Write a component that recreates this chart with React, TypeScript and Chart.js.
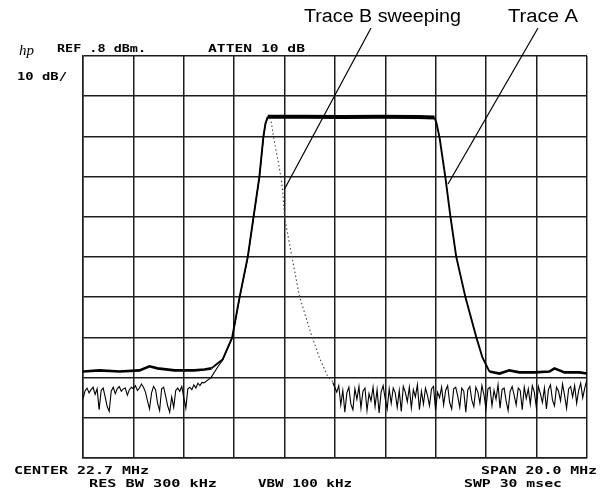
import React, { useEffect, useRef } from "react";
import { Chart, registerables } from "chart.js";

Chart.register(...registerables);

// Spectrum analyzer settings: center 22.7 MHz, span 20 MHz, ref 0.8 dBm, 10 dB/div
const freqTicks = [12.7, 14.7, 16.7, 18.7, 20.7, 22.7, 24.7, 26.7, 28.7, 30.7, 32.7];
const levelTicks = [0.8, -9.2, -19.2, -29.2, -39.2, -49.2, -59.2, -69.2, -79.2, -89.2, -99.2];

// Trace A (max hold, full filter response)
const traceAFreq = [
  12.7, 13.35, 14.15, 14.94, 15.34, 15.66, 16.33, 17.12, 17.52, 17.8, 18.24, 18.62, 18.91,
  19.24, 19.47, 19.7, 19.86, 19.94, 20.03, 21.5, 23.0, 24.5, 26.0, 26.65, 26.73, 26.85, 27.08,
  27.28, 27.51, 27.88, 28.31, 28.55, 28.83, 29.23, 29.62, 30.02, 30.62, 31.21, 31.41, 31.81,
  32.4, 32.7,
];
const traceALevel = [
  -77.7, -77.4, -77.7, -77.4, -76.4, -76.9, -77.4, -77.4, -77.2, -76.9, -74.7, -69.2, -59.3,
  -49.1, -39.1, -29.2, -19.2, -16.0, -14.3, -14.3, -14.4, -14.3, -14.4, -14.5, -16.0, -19.5,
  -29.4, -39.1, -49.1, -59.3, -69.2, -74.2, -77.7, -78.2, -77.4, -77.9, -77.9, -77.7, -76.9,
  -77.9, -77.9, -78.2,
];

// Trace B (sweeping): noise on the left, sampled every 0.08 MHz from 12.7 MHz
const traceBLeftStart = 12.7;
const traceBStep = 0.08;
const traceBLeftNoise = [
  -84.5, -82.5, -81.8, -83.0, -82.2, -81.6, -83.4, -82.0, -87.2, -82.4,
  -81.8, -84.0, -86.4, -87.6, -82.6, -81.6, -83.2, -82.0, -81.4, -82.6,
  -82.0, -81.8, -83.6, -82.2, -81.6, -82.0, -81.2, -82.4, -81.8, -80.8,
  -81.6, -82.8, -85.0, -87.0, -83.0, -81.4, -82.2, -85.6, -87.4, -82.0,
  -81.6, -83.8, -86.2, -87.8, -84.0, -86.6, -82.4, -81.8, -82.6, -81.4,
  -84.2, -86.8, -82.0, -81.6, -82.2, -81.0, -81.8, -80.6, -81.2, -80.4, -80.5,
];
// Trace B rising skirt
const traceBRiseFreq = [17.5, 17.78, 18.05, 18.24, 18.62, 18.91, 19.24, 19.47, 19.7, 19.86, 19.94, 20.03, 20.1];
const traceBRiseLevel = [-80.5, -79.2, -76.5, -74.9, -69.4, -59.5, -49.3, -39.3, -29.4, -19.4, -16.2, -14.5, -14.6];
// Trace B falling (fast sweep, faint)
const traceBFallFreq = [20.1, 20.17, 20.3, 20.43, 20.57, 20.63, 20.7, 20.96, 21.29, 21.76, 22.08, 22.41, 22.61];
const traceBFallLevel = [-14.6, -15.7, -20.7, -24.9, -29.9, -33.2, -39.4, -48.1, -59.0, -68.5, -74.2, -78.9, -80.2];
// Trace B noise on the right, sampled every 0.08 MHz from 22.61 MHz
const traceBRightStart = 22.61;
const traceBRightNoise = [
  -80.4, -81.6, -82.8, -81.2, -86.0, -82.4, -87.8, -83.0, -81.6, -85.8,
  -87.2, -82.0, -84.6, -81.4, -86.8, -82.6, -81.8, -87.4, -83.2, -85.0,
  -81.6, -86.4, -82.2, -88.0, -82.8, -81.2, -84.4, -87.0, -82.0, -85.6,
  -81.8, -83.0, -86.6, -82.4, -87.6, -81.4, -82.8, -85.2, -81.6, -86.8,
  -82.2, -84.0, -81.0, -87.2, -82.6, -85.8, -81.8, -83.6, -86.2, -82.0,
  -81.4, -87.4, -82.8, -84.2, -81.6, -86.0, -82.4, -81.2, -85.4, -87.0,
  -82.0, -81.6, -83.8, -86.6, -81.8, -82.6, -87.8, -82.2, -81.4, -84.8,
  -86.4, -81.6, -82.8, -85.6, -81.2, -83.4, -87.0, -82.0, -81.6, -86.2,
  -82.4, -84.6, -81.0, -86.8, -82.2, -81.8, -85.0, -87.4, -82.6, -81.4,
  -83.6, -86.0, -81.8, -82.4, -87.2, -81.6, -84.4, -82.0, -85.8, -81.2,
  -82.8, -86.6, -81.4, -83.2, -85.4, -81.8, -87.0, -82.2, -81.0, -84.8,
  -86.2, -81.6, -82.6, -85.0, -80.8, -83.6, -86.8, -82.0, -81.4, -84.0,
  -81.2, -85.6, -82.4, -80.6, -84.2, -81.8, -79.8,
];

const pairs = (xs: number[], ys: number[]) => xs.map((x, i) => ({ x, y: ys[i] }));
const sampled = (start: number, step: number, ys: number[]) =>
  ys.map((y, i) => ({ x: +(start + i * step).toFixed(3), y }));

const MONO = 'bold 11px "DejaVu Sans Mono"';

const labels: { t: string; x: number; y: number; w?: number; font: string }[] = [
  { t: "hp", x: 19, y: 55, font: 'italic 15px "Liberation Serif"' },
  { t: "REF .8 dBm.", x: 57, y: 52, w: 89, font: MONO },
  { t: "ATTEN 10 dB", x: 208, y: 52, w: 97, font: MONO },
  { t: "10 dB/", x: 17, y: 80, w: 50, font: MONO },
  { t: "CENTER 22.7 MHz", x: 14, y: 474, w: 135, font: MONO },
  { t: "SPAN 20.0 MHz", x: 481, y: 474, w: 116, font: MONO },
  { t: "RES BW 300 kHz", x: 89, y: 487, w: 128, font: MONO },
  { t: "VBW 100 kHz", x: 258, y: 487, w: 94, font: MONO },
  { t: "SWP 30 msec", x: 464, y: 487, w: 98, font: MONO },
  { t: "Trace B sweeping", x: 304, y: 22, w: 157, font: '18px "Liberation Sans"' },
  { t: "Trace A", x: 508, y: 22, w: 70, font: '18px "Liberation Sans"' },
];

const annotations = [
  { x1: 371, y1: 28, x2: 284, y2: 190 },
  { x1: 538, y1: 28, x2: 448, y2: 184 },
];

const overlayPlugin = {
  id: "overlay",
  beforeDraw(chart: any) {
    const ctx = chart.ctx;
    ctx.save();
    ctx.fillStyle = "#fff";
    ctx.fillRect(0, 0, chart.width, chart.height);
    ctx.restore();
  },
  afterDraw(chart: any) {
    const ctx = chart.ctx as CanvasRenderingContext2D;
    ctx.save();
    ctx.fillStyle = "#000";
    ctx.textBaseline = "alphabetic";
    labels.forEach((l) => {
      ctx.font = l.font;
      const m = ctx.measureText(l.t).width;
      const sx = l.w ? l.w / m : 1;
      ctx.save();
      ctx.translate(l.x, l.y);
      ctx.scale(sx, 1);
      ctx.fillText(l.t, 0, 0);
      ctx.restore();
    });
    ctx.strokeStyle = "#000";
    ctx.lineWidth = 1.2;
    annotations.forEach((a) => {
      ctx.beginPath();
      ctx.moveTo(a.x1, a.y1);
      ctx.lineTo(a.x2, a.y2);
      ctx.stroke();
    });
    ctx.restore();
  },
};

export default function App() {
  const ref = useRef<HTMLCanvasElement | null>(null);
  useEffect(() => {
    if (!ref.current) return;
    const gridColor = "#1e1e1e";
    const chart = new Chart(ref.current, {
      type: "line",
      data: {
        datasets: [
          {
            label: "Trace B left",
            data: [...sampled(traceBLeftStart, traceBStep, traceBLeftNoise), ...pairs(traceBRiseFreq, traceBRiseLevel)],
            borderColor: "#000",
            borderWidth: 1.1,
            pointRadius: 0,
            tension: 0,
          },
          {
            label: "Trace B fall",
            data: pairs(traceBFallFreq, traceBFallLevel),
            borderColor: "#444",
            borderWidth: 1.1,
            borderDash: [1.5, 2.5],
            pointRadius: 0,
            tension: 0,
          },
          {
            label: "Trace B right",
            data: sampled(traceBRightStart, traceBStep, traceBRightNoise),
            borderColor: "#000",
            borderWidth: 1.1,
            pointRadius: 0,
            tension: 0,
          },
          {
            label: "Trace A",
            data: pairs(traceAFreq, traceALevel),
            borderColor: "#000",
            borderWidth: 2,
            pointRadius: 0,
            tension: 0,
            segment: {
              borderWidth: (c: any) =>
                c.p0.parsed.y > -15 && c.p1.parsed.y > -15
                  ? 4
                  : c.p0.parsed.y < -76 && c.p1.parsed.y < -76
                  ? 2.6
                  : 1.9,
            },
          },
        ],
      },
      options: {
        animation: false,
        responsive: false,
        events: [],
        layout: { padding: { left: 83, right: 22, top: 56, bottom: 36 }, autoPadding: false },
        plugins: { legend: { display: false }, tooltip: { enabled: false } },
        scales: {
          x: {
            type: "linear",
            min: 12.7,
            max: 32.7,
            afterBuildTicks: (s: any) => {
              s.ticks = freqTicks.map((value) => ({ value }));
            },
            afterFit: (s: any) => {
              s.height = 0;
            },
            ticks: { display: false },
            grid: { color: gridColor, lineWidth: 1.5, drawTicks: false },
            border: { display: true, color: gridColor, width: 1.5 },
          },
          y: {
            type: "linear",
            min: -99.2,
            max: 0.8,
            afterBuildTicks: (s: any) => {
              s.ticks = levelTicks.map((value) => ({ value }));
            },
            afterFit: (s: any) => {
              s.width = 0;
            },
            ticks: { display: false },
            grid: { color: gridColor, lineWidth: 1.5, drawTicks: false },
            border: { display: true, color: gridColor, width: 1.5 },
          },
        },
      },
      plugins: [overlayPlugin],
    });
    return () => chart.destroy();
  }, []);
  return (
    <div style={{ position: "absolute", left: 0, top: 0, width: 609, height: 494, background: "#fff" }}>
      <canvas ref={ref} width={609} height={494} style={{ display: "block" }} />
    </div>
  );
}
